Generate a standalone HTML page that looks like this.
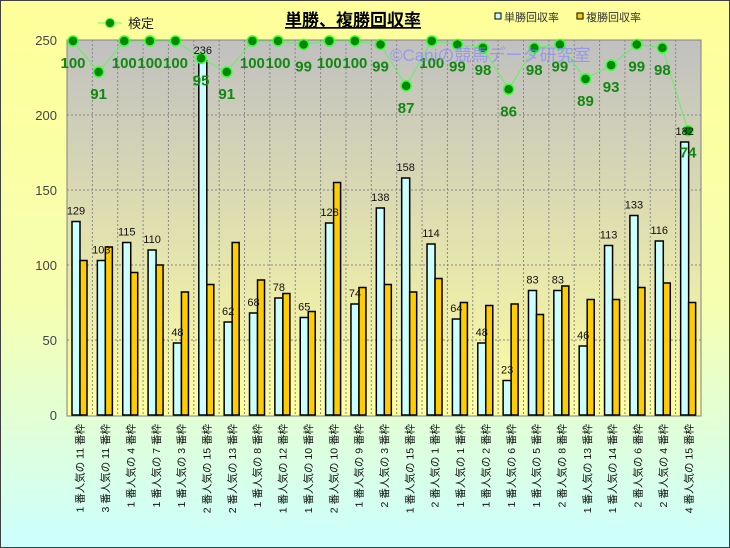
<!DOCTYPE html>
<html><head><meta charset="utf-8"><style>
body{margin:0;}
svg{display:block;font-family:"Liberation Sans","Noto Sans CJK JP",sans-serif;}
</style></head><body>
<svg id="c" width="730" height="548" viewBox="0 0 730 548">
<defs>
<linearGradient id="bg" x1="0" y1="0" x2="0" y2="1"><stop offset="0" stop-color="#ffff99"/><stop offset="0.55" stop-color="#f6ffb0"/><stop offset="1" stop-color="#ccffff"/></linearGradient>
<linearGradient id="pg" x1="0" y1="0" x2="0" y2="1"><stop offset="0" stop-color="#c0c0c0"/><stop offset="1" stop-color="#ffffa0"/></linearGradient>
</defs>
<rect x="0.5" y="0.5" width="729" height="547" fill="url(#bg)" stroke="#404040"/>
<rect x="67" y="40" width="634" height="376" fill="url(#pg)" stroke="#808080"/>
<text x="353" y="26" font-size="17" font-weight="bold" text-anchor="middle" text-decoration="underline">単勝、複勝回収率</text>
<g><line x1="98" y1="23" x2="122" y2="23" stroke="#66ff66" stroke-width="1"/><circle cx="110" cy="23" r="4.5" fill="#008800" stroke="#33ff33"/><text x="128" y="28" font-size="13" fill="#222">検定</text></g>
<g><rect x="495" y="13" width="6" height="6" fill="#ccffff" stroke="#000"/><text x="504" y="21" font-size="11" fill="#333">単勝回収率</text></g>
<g><rect x="577" y="13" width="6" height="6" fill="#ffcc00" stroke="#000"/><text x="586" y="21" font-size="11" fill="#333">複勝回収率</text></g>
<g id="grid"></g><g id="bars"></g><g id="line"></g><g id="labels"></g>
<text x="390" y="61" font-size="17" fill="#8888ff" fill-opacity="0.7">©Caniの競馬データ研究室</text>
</svg>
<script>
const categories=["1番人気の11番枠","3番人気の11番枠","1番人気の4番枠","1番人気の7番枠","1番人気の3番枠","2番人気の15番枠","2番人気の13番枠","1番人気の8番枠","1番人気の12番枠","1番人気の10番枠","2番人気の10番枠","1番人気の9番枠","2番人気の3番枠","1番人気の15番枠","2番人気の1番枠","1番人気の1番枠","1番人気の2番枠","1番人気の6番枠","1番人気の5番枠","2番人気の8番枠","1番人気の13番枠","1番人気の14番枠","2番人気の6番枠","2番人気の4番枠","4番人気の15番枠"];
const tansho=[129,103,115,110,48,236,62,68,78,65,128,74,138,158,114,64,48,23,83,83,46,113,133,116,182];
const fukusho=[103,112,95,100,82,87,115,90,81,69,155,85,87,82,91,75,73,74,67,86,77,77,85,88,75];
const kentei=[100,91,100,100,100,95,91,100,100,99,100,100,99,87,100,99,98,86,98,99,89,93,99,98,74];
const yTicks=[0,50,100,150,200,250];
const NS="http://www.w3.org/2000/svg";
const L=67,R=701,T=40,B=415,n=categories.length,cw=(R-L)/n;
const y=v=>B-v*(B-T)/250;
const yl=v=>41+(100-v)*3.45;
const xl=i=>73+i*(688-73)/(n-1);
function mk(t,a,p){const e=document.createElementNS(NS,t);for(const k in a)e.setAttribute(k,a[k]);p.appendChild(e);return e;}
const g=document.getElementById('grid'),gb=document.getElementById('bars'),gl=document.getElementById('line'),lb=document.getElementById('labels');
yTicks.forEach(v=>{
 if(v>0&&v<250){const ln=mk('line',{x1:L,x2:R,y1:y(v),y2:y(v),stroke:'#888','stroke-dasharray':'2,2'},g);
 
 }
 const t=mk('text',{x:57,y:y(v)+5,'font-size':13,'text-anchor':'end',fill:'#444'},g);t.textContent=v;
 
 
});
for(let i=1;i<n;i++){const ln=mk('line',{x1:L+i*cw,x2:L+i*cw,y1:T,y2:B,stroke:'#888','stroke-dasharray':'2,2'},g);
 
 }
categories.forEach((c,i)=>{
 const x0=L+i*cw;
 const b1=mk('rect',{x:x0+5,y:y(tansho[i]),width:8,height:B-y(tansho[i]),fill:'#ccffff',stroke:'#000','stroke-width':1.5},gb);
 
 
 const b2=mk('rect',{x:x0+13,y:y(fukusho[i]),width:7,height:B-y(fukusho[i]),fill:'#ffcc00',stroke:'#000','stroke-width':1.5},gb);
 
 
 const tl=mk('text',{x:x0+9,y:y(tansho[i])-7,'font-size':11,'text-anchor':'middle',fill:'#111'},lb);tl.textContent=tansho[i];
 
 
 const xt=mk('text',{transform:`translate(${x0+cw/2+4},424) rotate(-90)`,'font-size':10.5,'text-anchor':'end',fill:'#111'},lb);xt.textContent=c.replace(/の/,'の ').replace(/(\d+)番枠/,' $1 番枠').replace(/^(\d)/,'$1 ');
 
 
});
const pts=kentei.map((v,i)=>xl(i)+','+yl(v)).join(' ');
const pl=mk('polyline',{points:pts,fill:'none',stroke:'#66ee66','stroke-width':1},gl);


kentei.forEach((v,i)=>{
 const c=mk('circle',{cx:xl(i),cy:yl(v),r:5,fill:'#008800',stroke:'#33ff33','stroke-width':1.5},gl);
 
 
 const t=mk('text',{x:xl(i),y:yl(v)+27,'font-size':15,'font-weight':'bold','text-anchor':'middle',fill:'#118811'},gl);t.textContent=v;
 
 
});
</script>
</body></html>
